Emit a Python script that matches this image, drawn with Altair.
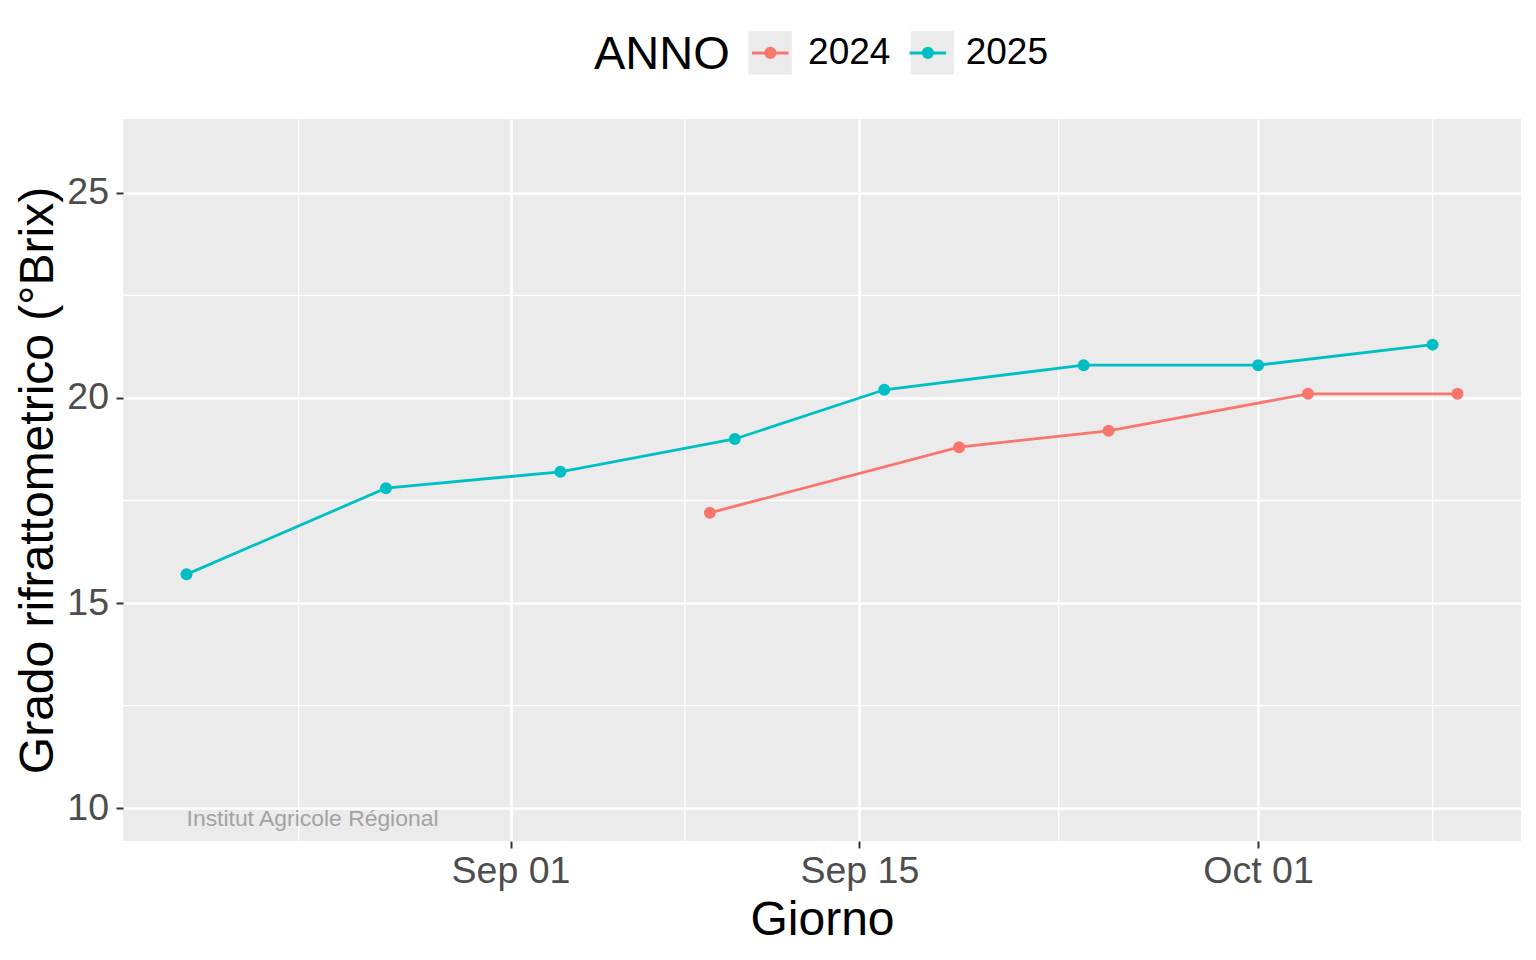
import altair as alt
import pandas as pd

# ---------------- data ----------------
dates_2025 = ["2025-08-19", "2025-08-27", "2025-09-03", "2025-09-10",
              "2025-09-16", "2025-09-24", "2025-10-01", "2025-10-08"]
brix_2025 = [15.7, 17.8, 18.2, 19.0, 20.2, 20.8, 20.8, 21.3]
dates_2024 = ["2024-09-09", "2024-09-19", "2024-09-25", "2024-10-03", "2024-10-09"]
brix_2024 = [17.2, 18.8, 19.2, 20.1, 20.1]
years = ["2024", "2025"]
colors = ["#F8766D", "#00BFC4"]
x_major = ["2025-08-15", "2025-09-01", "2025-09-15", "2025-10-01", "2025-10-15"]
y_major = [10, 15, 20, 25]
y_limits = [10, 26]
watermark = "Institut Agricole Régional"
x_title = "Giorno"
y_title = "Grado rifrattometrico (°Brix)"
legend_title = "ANNO"

FONT = "Liberation Sans"


def to_ms(s):
    return int(pd.Timestamp(s, tz="UTC").value // 10**6)


rows = []
for d, v in zip(dates_2024, brix_2024):
    rows.append({"date": to_ms("2025" + d[4:]), "brix": v, "ANNO": "2024"})
for d, v in zip(dates_2025, brix_2025):
    rows.append({"date": to_ms(d), "brix": v, "ANNO": "2025"})
df = pd.DataFrame(rows)
df["ANNO_bg"] = df["ANNO"]

xmin, xmax = df["date"].min(), df["date"].max()
xpad = 0.05 * (xmax - xmin)
x_domain = [float(xmin - xpad), float(xmax + xpad)]
ypad = 0.05 * (y_limits[1] - y_limits[0])
y_domain = [y_limits[0] - ypad, y_limits[1] + ypad]

major_ms = [to_ms(d) for d in x_major]
x_values = [m for m in major_ms if x_domain[0] <= m <= x_domain[1]]
x_minor = [(a + b) / 2 for a, b in zip(major_ms[:-1], major_ms[1:])]
x_minor = [m for m in x_minor if x_domain[0] <= m <= x_domain[1]]
y_minor = [(a + b) / 2 for a, b in zip(y_major[:-1], y_major[1:])]

x_scale = alt.Scale(type="utc", domain=x_domain, nice=False)
y_scale = alt.Scale(domain=y_domain, nice=False, zero=False)

x_axis = alt.Axis(values=x_values, format="%b %d", title=x_title,
                  labelPadding=4, titlePadding=7, tickSize=7)
y_axis = alt.Axis(values=y_major, format="d", title=y_title,
                  labelPadding=7.5, titlePadding=4.5, tickSize=7)

# ---- legend geometry (text widths in Liberation Sans / Arial metrics) ----
TITLE_FS, LABEL_FS = 47, 37
LEG_X, LEG_Y = 471, -90
TITLE_PAD, LABEL_OFF, COL_PAD = 16.8, 14.3, 8.6
SYM_SIZE, SYM_SW = 1884, 3.0
title_w = (0.667 + 0.722 * 2 + 0.778) * TITLE_FS      # "ANNO"
label_w = 4 * 0.556 * LABEL_FS                         # "2024"

SYM = ("M-1,-1M1,1M-0.84,0L0.84,0M0.21,0A0.21,0.21,0,1,1,-0.21,0"
       "A0.21,0.21,0,1,1,0.21,0Z")

color_legend = alt.Legend(
    title=legend_title, orient="none", legendX=LEG_X, legendY=LEG_Y,
    direction="horizontal", titleOrient="left", titleAnchor="middle",
    titleBaseline="middle", titleFontSize=TITLE_FS, titleFont=FONT,
    titleFontWeight="normal", titleColor="black", titlePadding=TITLE_PAD,
    labelFontSize=LABEL_FS, labelFont=FONT, labelColor="black",
    labelOffset=LABEL_OFF, columnPadding=COL_PAD, symbolType=SYM,
    symbolSize=SYM_SIZE, symbolStrokeWidth=SYM_SW, padding=0, zindex=2,
)
bg_legend = alt.Legend(
    title=None, orient="none", legendX=LEG_X + title_w + TITLE_PAD, legendY=LEG_Y,
    direction="horizontal", labelExpr="''", labelOffset=0, labelFontSize=1,
    columnPadding=LABEL_OFF + label_w + COL_PAD, symbolType="square",
    symbolSize=SYM_SIZE, symbolStrokeWidth=SYM_SW, symbolFillColor="#EBEBEB",
    symbolStrokeColor="#EBEBEB", padding=0, zindex=1,
)

X = alt.X("date:T", scale=x_scale, axis=x_axis)
Y = alt.Y("brix:Q", scale=y_scale, axis=y_axis)

# minor grid
minor_x = alt.Chart(pd.DataFrame({"date": x_minor})).mark_rule(
    color="white", strokeWidth=1.3
).encode(x=X)

minor_y = alt.Chart(pd.DataFrame({"brix": y_minor})).mark_rule(
    color="white", strokeWidth=1.3
).encode(y=Y)

# watermark
wm_df = pd.DataFrame({"date": [df["date"].min()], "brix": [min(y_major)], "t": [watermark]})
wm = alt.Chart(wm_df).mark_text(
    align="left", baseline="top", fontSize=22.9, font=FONT, color="#A3A3A3"
).encode(x=X, y=Y, text="t:N")

base = alt.Chart(df)

# invisible layer carrying the grey key-background legend
bg = base.mark_point(filled=True, opacity=0, color="#EBEBEB", size=10).encode(
    x=X, y=Y,
    shape=alt.Shape("ANNO_bg:N", scale=alt.Scale(range=["square", "square"]),
                    legend=bg_legend),
)

enc = dict(
    x=X, y=Y,
    color=alt.Color("ANNO:N", scale=alt.Scale(domain=years, range=colors),
                    legend=color_legend),
)

pts = base.mark_circle(size=144, opacity=1).encode(**enc)
lines = base.mark_line(strokeWidth=2.8).encode(**enc)

chart = alt.layer(minor_x, minor_y, wm, bg, pts, lines).properties(
    width=1398, height=722,
    autosize=alt.AutoSizeParams(type="none"),
    padding={"left": 115, "top": 111, "right": 7, "bottom": 111},
).configure_view(
    fill="#EBEBEB", strokeWidth=0
).configure_axis(
    domain=False, grid=True, gridColor="white", gridWidth=2.7,
    tickColor="#333333", tickWidth=2,
    labelColor="#4D4D4D", labelFontSize=37.5, labelFont=FONT,
    titleColor="black", titleFontSize=48, titleFont=FONT, titleFontWeight="normal",
)

chart.save("out.html", embed_options={"renderer": "svg", "actions": False})
